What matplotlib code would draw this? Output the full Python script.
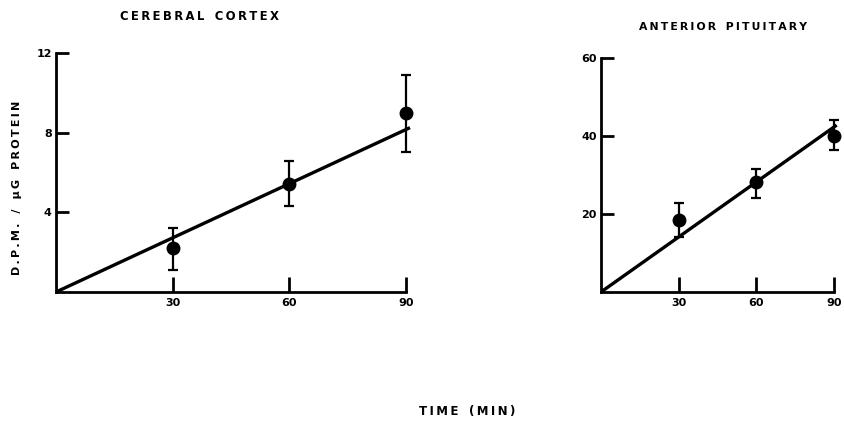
import numpy as np
import matplotlib
matplotlib.use('Agg')
import matplotlib.pyplot as plt

# time points (min)
times = [30, 60, 90]

# cerebral cortex
cortex_mean = [2.2, 5.4, 9.0]
cortex_lo = [1.1, 4.3, 7.05]
cortex_hi = [3.2, 6.6, 10.9]
cortex_fit = [0.0, 8.25]

# anterior pituitary
pit_mean = [18.5, 28.3, 40.0]
pit_lo = [14.0, 24.0, 36.5]
pit_hi = [22.8, 31.5, 44.0]
pit_fit = [0.0, 42.8]

fit_x = [0, 91]

plt.rcParams['font.family'] = ['DejaVu Sans']
plt.rcParams['font.weight'] = 'bold'

W, H = 844, 421
fig = plt.figure(figsize=(W / 100, H / 100), dpi=100)


def spaced(s):
    # spread letters out like the typewriter-ish lettering of the original
    return '\u2009  '.join('\u2009'.join(w) for w in s.split(' '))


def panel(rect_px, ymax, yticks, mean, lo, hi, fit, title, title_xy, tsize):
    x0, y0, w, h = rect_px
    ax = fig.add_axes([x0 / W, (H - y0) / H, w / W, h / H])
    m = np.array(mean)
    err = [m - np.array(lo), np.array(hi) - m]
    ax.plot(fit_x, fit, color='black', lw=2.4, solid_capstyle='butt', zorder=2)
    ax.errorbar(times, mean, yerr=err, fmt='o', color='black', ms=9,
                elinewidth=1.6, capsize=3.5, capthick=1.6, zorder=3)
    ax.set_xlim(0, 93)
    ax.set_ylim(0, ymax)
    for s in ('top', 'right'):
        ax.spines[s].set_visible(False)
    for s in ('left', 'bottom'):
        ax.spines[s].set_linewidth(2)
    ax.spines['bottom'].set_bounds(0, 90)
    ax.spines['left'].set_bounds(0, yticks[-1])
    ax.set_xticks(times)
    ax.set_xticklabels([str(t) for t in times])
    ax.set_yticks(yticks)
    ax.set_yticklabels([str(t) for t in yticks])
    ax.tick_params(axis='x', direction='in', length=11, width=2, labelsize=8, pad=4)
    ax.tick_params(axis='y', direction='in', length=9, width=2, labelsize=8, pad=3)
    fig.text(title_xy[0] / W, 1 - title_xy[1] / H, spaced(title), ha='center',
             va='center', fontsize=tsize, fontweight='bold')
    return ax


# left: origin at (56, 292) px, 3.89 px/min, 19.92 px/unit
panel((56, 292, 93 * 3.89, 12.6 * 19.92), 12.6, [4, 8, 12],
      cortex_mean, cortex_lo, cortex_hi, cortex_fit,
      'CEREBRAL CORTEX', (199, 17), 8.4)

# right: origin at (601, 292) px, 2.59 px/min, 3.9 px/unit
panel((601, 292, 93 * 2.59, 63 * 3.9), 63, [20, 40, 60],
      pit_mean, pit_lo, pit_hi, pit_fit,
      'ANTERIOR PITUITARY', (723, 27), 7.8)

fig.text(17 / W, 1 - 188 / H, spaced('D.P.M. / µG PROTEIN'), rotation=90,
         ha='center', va='center', fontsize=8, fontweight='bold')
fig.text(467 / W, 1 - 412 / H, spaced('TIME (MIN)'), ha='center', va='center',
         fontsize=8.5, fontweight='bold')

fig.savefig('out.png', dpi=100)
